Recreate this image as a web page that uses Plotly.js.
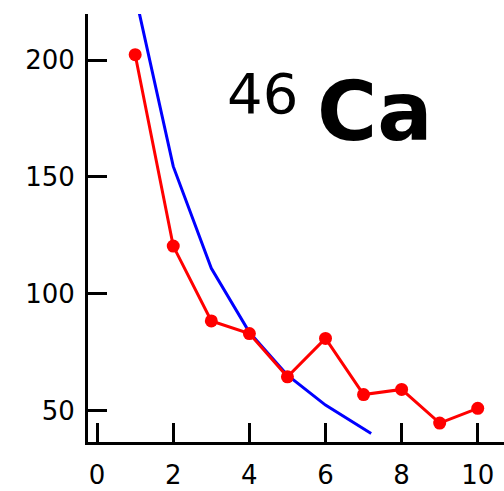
<!DOCTYPE html>
<html>
<head>
<meta charset="utf-8">
<script src="https://cdn.plot.ly/plotly-3.0.1.min.js"></script>
<style>html,body{margin:0;padding:0;background:#fff;}#chart{width:504px;height:491px;}</style>
</head>
<body>
<div id="chart"></div>
<script>
// Measured data (red markers)
const measX = [1, 2, 3, 4, 5, 6, 7, 8, 9, 10];
const measY = [202.3, 120.4, 88.4, 83.0, 64.5, 80.9, 56.9, 59.1, 44.7, 51.0];
// Model curve (blue line)
const modelX = [1, 2, 3, 4, 5, 6, 7.2];
const modelY = [228, 154.5, 110.9, 83.5, 65.2, 52.4, 40.2];
// Axis ticks
const xTicks = [0, 2, 4, 6, 8, 10];
const yTicks = [50, 100, 150, 200];

const traces = [
  {x: modelX, y: modelY, mode: 'lines', line: {color: '#0000ff', width: 3}, hoverinfo: 'skip'},
  {x: measX, y: measY, mode: 'lines+markers', line: {color: '#ff0000', width: 3},
   marker: {color: '#ff0000', size: 13}, hoverinfo: 'skip'}
];

const axisFont = {family: 'DejaVu Sans', size: 26, color: '#000'};
const layout = {
  width: 504, height: 491,
  margin: {l: 88, r: 0, t: 14, b: 49, pad: 0},
  paper_bgcolor: '#fff', plot_bgcolor: '#fff',
  showlegend: false,
  xaxis: {
    range: [-0.24, 10.69], tickvals: xTicks, ticktext: xTicks.map(String),
    ticks: 'inside', ticklen: 19, tickwidth: 3, tickcolor: '#000',
    showline: true, linewidth: 3, linecolor: '#000',
    showgrid: false, zeroline: false, tickfont: axisFont, ticklabelstandoff: 8
  },
  yaxis: {
    range: [36.6, 219.7], tickvals: yTicks, ticktext: yTicks.map(String),
    ticks: 'inside', ticklen: 19, tickwidth: 3, tickcolor: '#000',
    showline: true, linewidth: 3, linecolor: '#000',
    showgrid: false, zeroline: false, tickfont: axisFont, ticklabelstandoff: 5
  },
  annotations: [
    {xref: 'paper', yref: 'paper', x: (262 - 88) / 416, y: 1 - (93 - 14) / 428,
     text: '46', showarrow: false, xanchor: 'center', yanchor: 'middle',
     font: {family: 'DejaVu Sans', size: 56, color: '#000'}},
    {xref: 'paper', yref: 'paper', x: (375 - 88) / 416, y: 1 - (112 - 14) / 428,
     text: 'Ca', showarrow: false, xanchor: 'center', yanchor: 'middle',
     font: {family: 'DejaVu Sans', size: 82, color: '#000', weight: 'bold'}}
  ]
};

Plotly.newPlot('chart', traces, layout, {displayModeBar: false, staticPlot: true});
</script>
</body>
</html>
